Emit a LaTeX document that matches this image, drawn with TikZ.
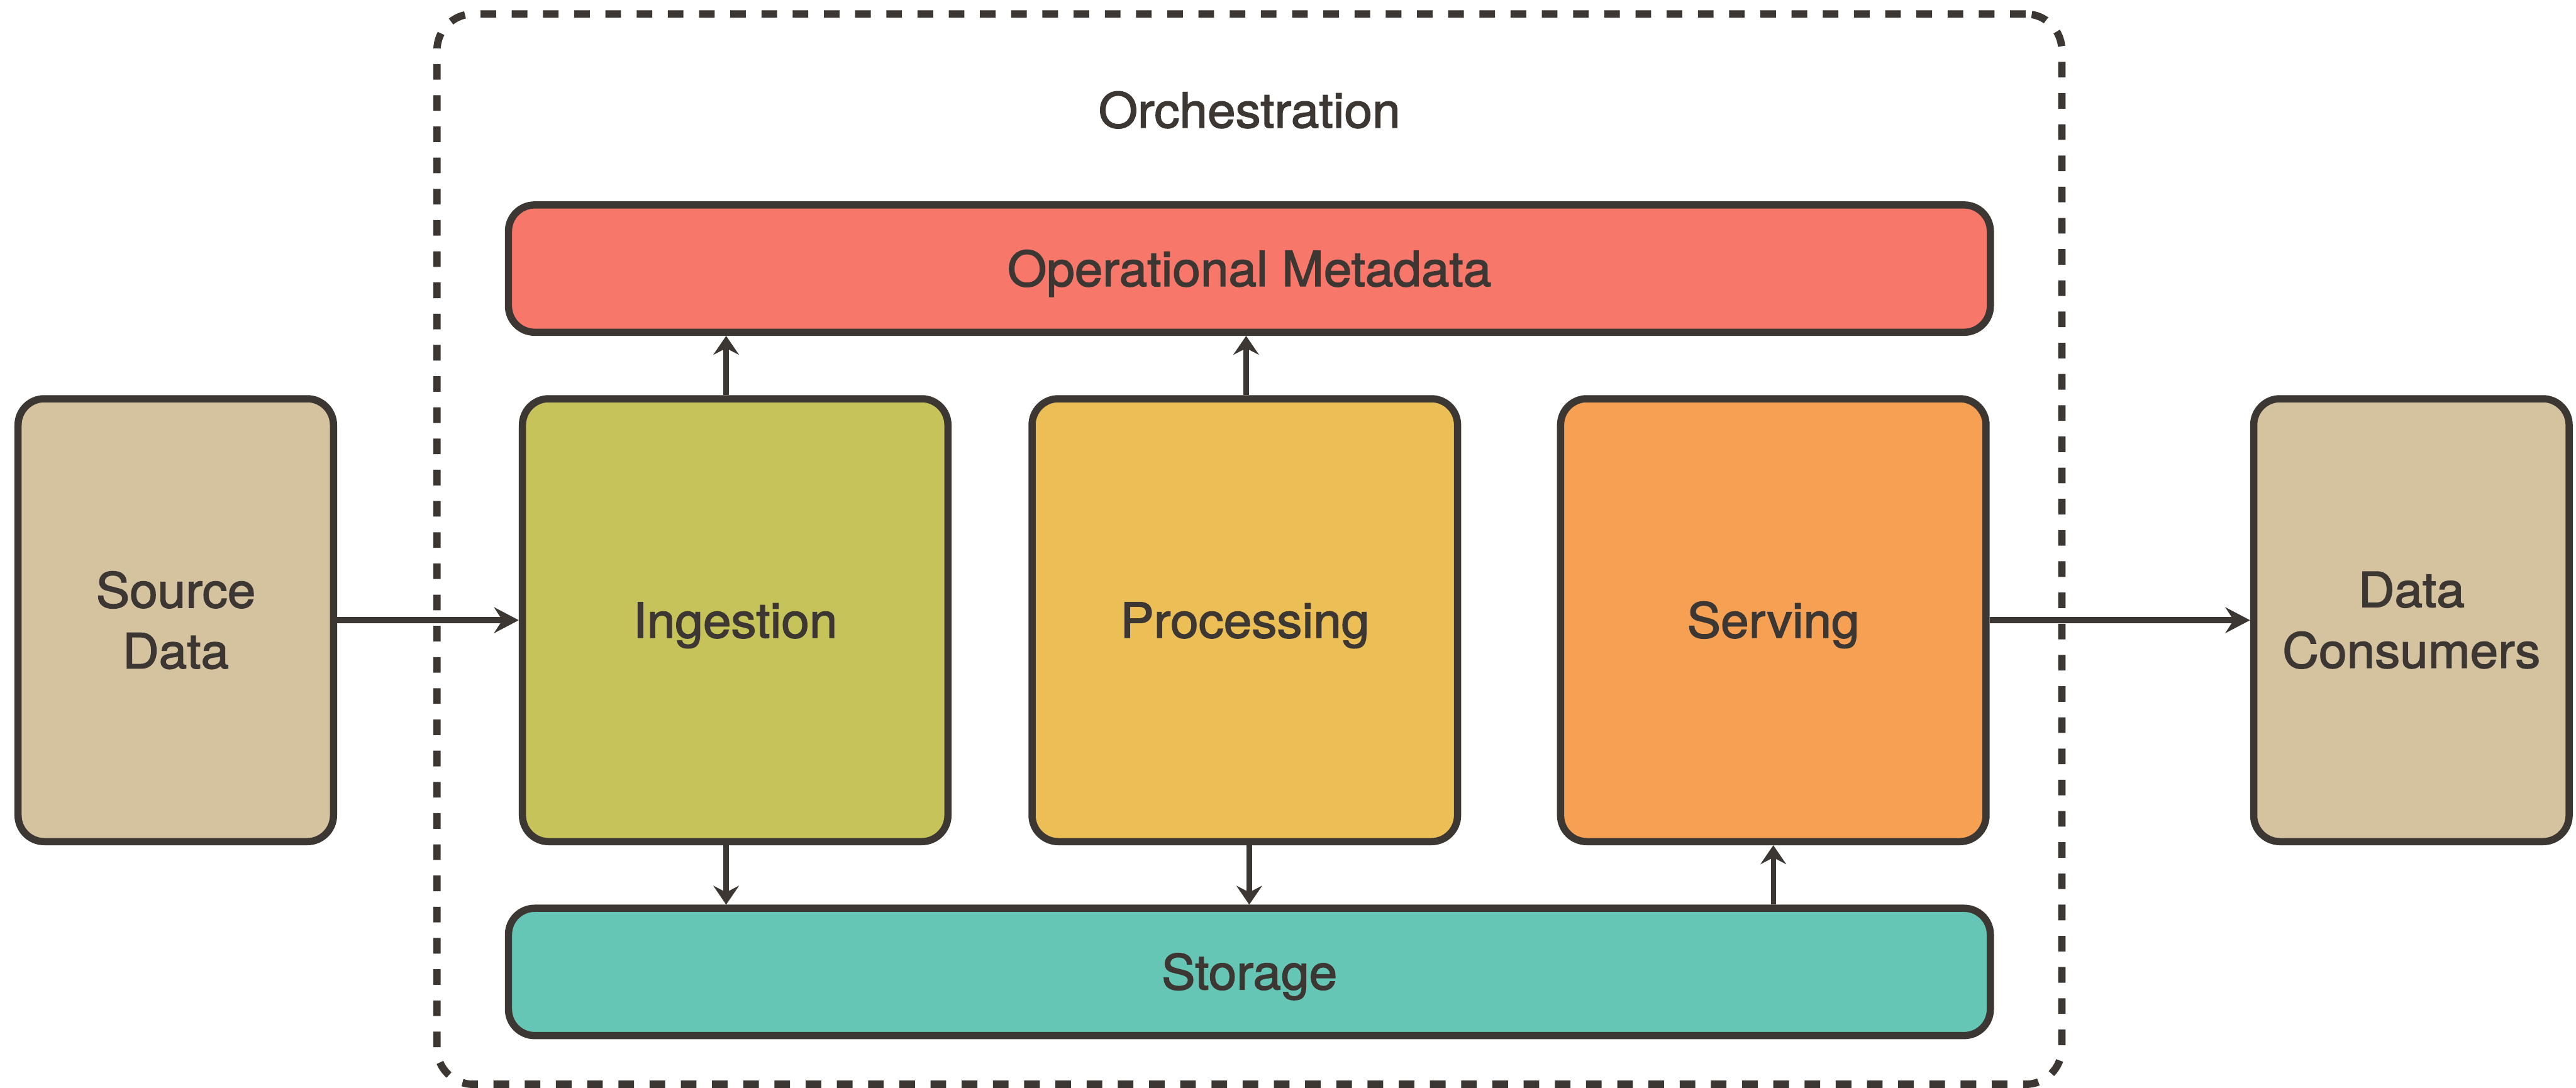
\documentclass[tikz,border=0pt]{standalone}
\usepackage{fontspec}
\newfontfamily\labelface{TeX Gyre Heros}[FakeStretch=1.04, BoldFont={TeX Gyre Heros}, BoldFeatures={FakeBold=2}]
\usetikzlibrary{arrows.meta}

\definecolor{ink}{HTML}{3D3734}
\definecolor{sandfill}{HTML}{D5C39F}
\definecolor{metafill}{HTML}{F7786B}
\definecolor{ingestfill}{HTML}{C5C35A}
\definecolor{procfill}{HTML}{ECBE56}
\definecolor{servefill}{HTML}{F6A053}
\definecolor{storefill}{HTML}{66C6B5}

\begin{document}
\begin{tikzpicture}[x=1pt, y=-1pt,
  labelfont/.style={text=ink, font=\labelface\bfseries\fontsize{29.5}{37}\selectfont},
  block/.style={draw=ink, line width=4.4pt, rounded corners=16pt, inner sep=0pt, labelfont, align=center},
  oneline/.style={text height=21.3pt, text depth=0pt},
  endpoint/.style={block, minimum width=192pt, minimum height=269.6pt, fill=sandfill},
  stage/.style={block, oneline, minimum width=259pt, minimum height=269.6pt},
  band/.style={block, oneline, minimum width=902pt, minimum height=77.5pt},
  frame/.style={draw=ink, line width=4.5pt, dash pattern=on 9.5pt off 9.5pt, rounded corners=22pt, inner sep=0pt},
  flow/.style={draw=ink, line width=3.6pt, -{Stealth[length=15pt, width=15.6pt, inset=5pt]}},
  vflow/.style={draw=ink, line width=3.2pt, -{Stealth[length=11.5pt, width=15.6pt, inset=4pt]}}
]
\useasboundingbox (0,0) rectangle (1568,662);
\fill[white] (0,0) rectangle (1568,662);

% orchestration frame and its title
\node[frame, minimum width=989pt, minimum height=651.5pt] (orch) at (760.5,334.25) {};
\node[labelfont, oneline, inner sep=0pt] (orchtitle) at (760.5,67) {Orchestration};

% outer source and sink
\node[endpoint] (source) at (107,377.5) {Source\\Data};
\node[endpoint] (consumers) at (1467.8,377.5) {Data\\Consumers};

% shared layers
\node[band, fill=metafill] (meta) at (760.5,163.5) {Operational Metadata};
\node[band, fill=storefill] (storage) at (760.5,591.6) {Storage};

% pipeline stages
\node[stage, fill=ingestfill] (ingest) at (447.5,377.5) {Ingestion};
\node[stage, fill=procfill] (process) at (757.7,377.5) {Processing};
\node[stage, fill=servefill] (serve) at (1079.4,377.5) {Serving};

% columns of the vertical connectors
\coordinate (colA) at (442,0);
\coordinate (colB) at (758.5,0);
\coordinate (colC) at (760.4,0);
\coordinate (colD) at (1079.4,0);

% main data path
\draw[flow] (source.east) -- (ingest.west);
\draw[flow] (serve.east) -- (consumers.west);

% metadata and storage links
\draw[vflow] (ingest.north -| colA) -- (meta.south -| colA);
\draw[vflow] (process.north -| colB) -- (meta.south -| colB);
\draw[vflow] (ingest.south -| colA) -- (storage.north -| colA);
\draw[vflow] (process.south -| colC) -- (storage.north -| colC);
\draw[vflow] (storage.north -| colD) -- (serve.south -| colD);
\end{tikzpicture}
\end{document}
